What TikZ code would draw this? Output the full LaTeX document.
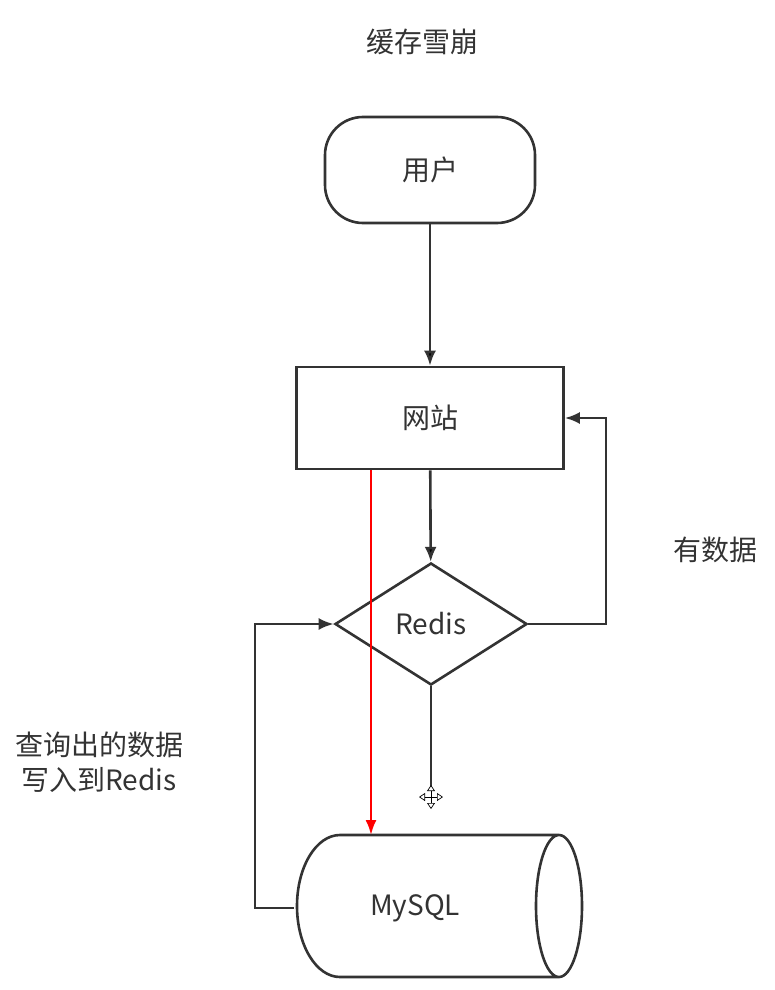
\documentclass[tikz,border=0pt]{standalone}
\usepackage{fontspec}
\newfontfamily\cjk{Noto Sans CJK SC}
\usetikzlibrary{shapes.geometric,arrows.meta}
\definecolor{ink}{HTML}{333333}
\begin{document}
\begin{tikzpicture}[x=1pt,y=-1pt]
      \tikzset{block/.style={draw=ink, line width=2.6pt, text=ink, font=\cjk\fontsize{28}{35}\selectfont, inner sep=0pt},
               label text/.style={text=ink, font=\cjk\fontsize{28}{35}\selectfont, align=center, inner sep=0pt},
               flow/.style={draw=ink, line width=2.6pt, -{Latex[length=15pt,width=12pt]}}}
    \useasboundingbox (0,0) rectangle (775,990);
    \node[label text] at (422,42) (title) {缓存雪崩};
    \node[block, rounded corners=38pt, minimum width=210pt, minimum height=106pt] at (430,170) (user) {用户};
    \node[block, minimum width=267pt, minimum height=102pt] at (430,418) (site) {网站};
    \node[block, diamond, minimum width=192pt, minimum height=122pt] at (431,624) (redis) {Redis};
    \node[block, draw=none, minimum width=240pt, minimum height=142pt] at (415,908) (mysql) {MySQL};
    \node[label text] at (715,550) (hit label) {有数据};
    \node[label text] at (99,762) (fill label) {查询出的数据\\写入到Redis};

    \coordinate (hit) at (606,624);
    \coordinate (miss) at (431,786);
    \coordinate (sql top) at (371,835);
    \coordinate (back) at (255,908);

    % cylinder
    \draw[ink, line width=2.6pt] (340,835) -- (559,835)
        (340,835) arc[start angle=90, end angle=270, x radius=43pt, y radius=71pt] -- (559,977)
        (559,906) ellipse[x radius=23pt, y radius=71pt];

    	\path[flow] (user) edge (site);
    	\path[flow] (site) edge (redis);
    	\draw[flow] (redis.east) -- (redis.east -| hit) |- (site.east);
    	\draw[flow] (mysql.west) -- (back) |- (redis.west);
    	\draw[ink, line width=2.6pt] (redis.south) -- (miss);
    	\draw[red, line width=2.2pt, -{Latex[length=15pt,width=11pt]}] (site.south -| sql top) -- (sql top);

    % cursor
    \foreach \a in {0,90,180,270}
      \draw[black, line width=0.7pt, -{Triangle[open,fill=white,length=6pt,width=8pt]}] (431,797) -- ++(\a:12pt);
\end{tikzpicture}
\end{document}
